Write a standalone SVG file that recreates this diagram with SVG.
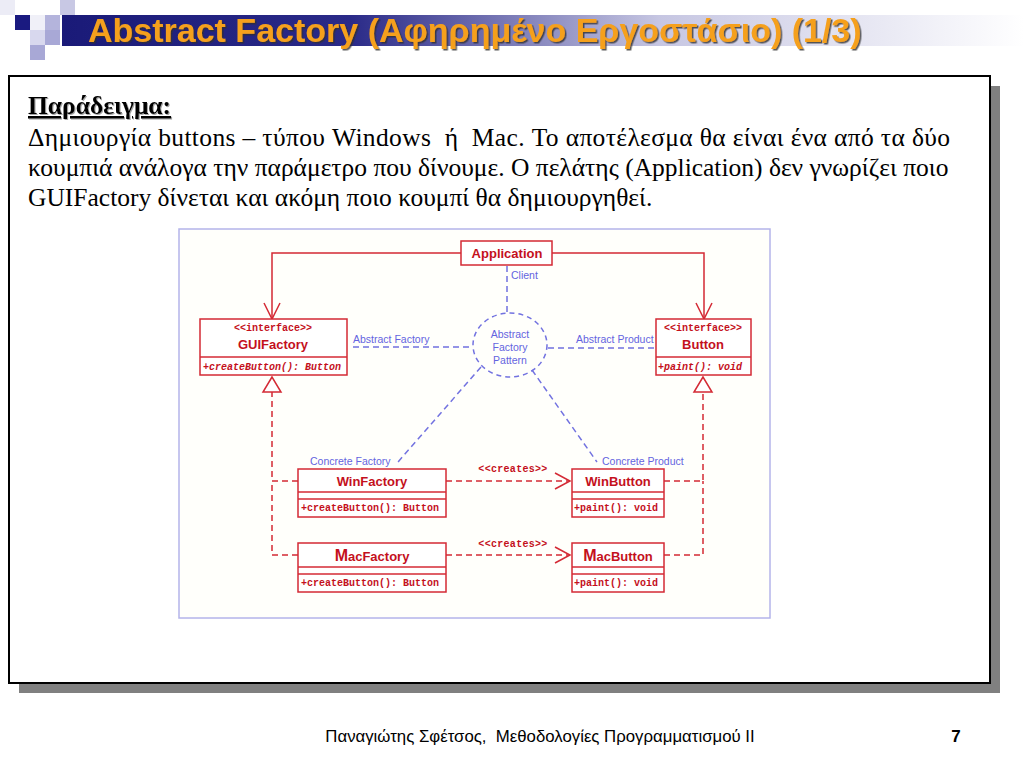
<svg xmlns="http://www.w3.org/2000/svg" width="1024" height="768" viewBox="0 0 1024 768">
<defs>
<linearGradient id="tb" x1="0" x2="1" y1="0" y2="0">
<stop offset="0" stop-color="#1a1a78"/>
<stop offset="0.3" stop-color="#2a2a88"/>
<stop offset="0.62" stop-color="#c6c6e2"/>
<stop offset="1" stop-color="#ffffff"/>
</linearGradient>
<filter id="sh" x="-5%" y="-20%" width="110%" height="150%">
<feDropShadow dx="1.5" dy="1.5" stdDeviation="0.6" flood-color="#303030" flood-opacity="0.8"/>
</filter>
<filter id="sh2" x="-5%" y="-20%" width="110%" height="150%">
<feDropShadow dx="1" dy="1" stdDeviation="0.5" flood-color="#808080" flood-opacity="0.7"/>
</filter>
<style>
.red{stroke:#d42a35;fill:none;stroke-width:1.5}
.rdash{stroke:#d42a35;fill:none;stroke-width:1.5;stroke-dasharray:6 4}
.bdash{stroke:#7272e0;fill:none;stroke-width:1.5;stroke-dasharray:6 4}
.box{fill:#fff;stroke:#d42a35;stroke-width:1.5}
.tri{fill:#fff;stroke:#d42a35;stroke-width:1.5}
.cls{font-family:"Liberation Sans",Arial,sans-serif;font-weight:bold;font-size:13px;fill:#c4101c;text-anchor:middle}
.mono{font-family:"Liberation Mono","Courier New",monospace;font-weight:bold;font-size:10px;fill:#c4101c}
.blue{font-family:"Liberation Sans",Arial,sans-serif;font-size:10.5px;fill:#6464e0}
.body{font-family:"Liberation Serif","Times New Roman",serif;font-size:25.5px;fill:#000;white-space:pre}
</style>
</defs>
<rect width="1024" height="768" fill="#fff"/>
<g id="deco">
<rect x="0" y="0" width="15" height="15" fill="#ececf6"/>
<rect x="60" y="0" width="15" height="15" fill="#c8c8e4"/>
<rect x="15" y="15" width="15" height="15" fill="#1a1a80"/>
<rect x="30" y="15" width="15" height="15" fill="#f0f0f8"/>
<rect x="45" y="15" width="15" height="15" fill="#b4b4dc"/>
<rect x="30" y="30" width="15" height="15" fill="#d8d8ee"/>
<rect x="45" y="30" width="15" height="15" fill="#a8a8d6"/>
<rect x="30" y="45" width="15" height="15" fill="#a8a8d6"/>
</g>
<g id="title">
<rect x="62" y="15" width="962" height="31" fill="url(#tb)"/>
<text x="88" y="42" font-family="Liberation Sans,Arial,sans-serif" font-weight="bold" font-size="34" fill="#f5a01e" filter="url(#sh)">Abstract Factory (Αφηρημένο Εργοστάσιο) (1/3)</text>
</g>
<g id="panel">
<rect x="19" y="86" width="981" height="607" fill="#808080"/>
<rect x="9" y="76" width="981" height="607" fill="#fff" stroke="#000" stroke-width="2"/>
<text x="28" y="114" class="body" font-weight="bold" text-decoration="underline" filter="url(#sh2)">Παράδειγμα:</text>
<text x="28" y="146" class="body" xml:space="preserve" textLength="922" lengthAdjust="spacing">Δημιουργία buttons – τύπου Windows  ή  Mac. Το αποτέλεσμα θα είναι ένα από τα δύο</text>
<text x="28" y="176" class="body">κουμπιά ανάλογα την παράμετρο που δίνουμε. Ο πελάτης (Application) δεν γνωρίζει ποιο</text>
<text x="28" y="206" class="body">GUIFactory δίνεται και ακόμη ποιο κουμπί θα δημιουργηθεί.</text>
</g>
<g id="diagram-frame">
<rect x="179" y="229" width="591" height="389" fill="#fffffb" stroke="#b4b4ea" stroke-width="1.5"/>
</g>
<g id="connectors">
<path class="red" d="M461,253 H272 V319"/>
<path class="red" d="M264,303 L272,319 L280,303"/>
<path class="red" d="M552,253 H704 V319"/>
<path class="red" d="M696,303 L704,319 L712,303"/>
<path class="rdash" d="M298,481 H272 V392"/>
<path class="rdash" d="M298,555 H272 V481"/>
<polygon class="tri" points="272,377 263,392 281,392"/>
<path class="rdash" d="M664,481 H703 V392"/>
<path class="rdash" d="M664,555 H703 V481"/>
<polygon class="tri" points="703,377 694,392 712,392"/>
<path class="rdash" d="M446,481 H569"/>
<path class="red" d="M555,473 L570,481 L555,489"/>
<path class="rdash" d="M446,555 H569"/>
<path class="red" d="M555,547 L570,555 L555,563"/>
<text x="513" y="472" class="mono" font-size="8.5" text-anchor="middle" letter-spacing="0.3">&lt;&lt;creates&gt;&gt;</text>
<text x="513" y="547" class="mono" font-size="8.5" text-anchor="middle" letter-spacing="0.3">&lt;&lt;creates&gt;&gt;</text>
<path class="bdash" d="M507,266 V312"/>
<text x="511" y="279" class="blue">Client</text>
<path class="bdash" d="M353,347 H472"/>
<text x="353" y="343" class="blue">Abstract Factory</text>
<path class="bdash" d="M548,348 H655"/>
<text x="576" y="343" class="blue">Abstract Product</text>
<path class="bdash" d="M481,367 L398,462"/>
<text x="310" y="465" class="blue">Concrete Factory</text>
<path class="bdash" d="M532,370 L597,462"/>
<text x="602" y="465" class="blue">Concrete Product</text>
</g>
<g id="pattern">
<ellipse cx="510" cy="345" rx="37" ry="32" fill="none" stroke="#7272e0" stroke-width="1.5" stroke-dasharray="5 4"/>
<text x="510" y="338" class="blue" font-size="10" text-anchor="middle">Abstract</text>
<text x="510" y="351" class="blue" font-size="10" text-anchor="middle">Factory</text>
<text x="510" y="364" class="blue" font-size="10" text-anchor="middle">Pattern</text>
</g>
<g id="application">
<rect class="box" x="461" y="241" width="91" height="24"/>
<text x="507" y="258" class="cls">Application</text>
</g>
<g id="guifactory">
<rect class="box" x="200" y="319" width="147" height="56"/>
<line class="red" x1="200" y1="357" x2="347" y2="357"/>
<text x="273" y="331" class="mono" font-size="9.5" text-anchor="middle">&lt;&lt;interface&gt;&gt;</text>
<text x="273" y="349" class="cls">GUIFactory</text>
<text x="203" y="370" class="mono" font-style="italic">+createButton(): Button</text>
</g>
<g id="button">
<rect class="box" x="656" y="319" width="95" height="56"/>
<line class="red" x1="656" y1="357" x2="751" y2="357"/>
<text x="703" y="331" class="mono" font-size="9.5" text-anchor="middle">&lt;&lt;interface&gt;&gt;</text>
<text x="703" y="349" class="cls">Button</text>
<text x="658" y="370" class="mono" font-style="italic">+paint(): void</text>
</g>
<g id="winfactory">
<rect class="box" x="298" y="469" width="148" height="48"/>
<line class="red" x1="298" y1="492" x2="446" y2="492"/>
<line class="red" x1="298" y1="499" x2="446" y2="499"/>
<text x="372" y="486" class="cls">WinFactory</text>
<text x="301" y="511" class="mono">+createButton(): Button</text>
</g>
<g id="macfactory">
<rect class="box" x="298" y="543" width="148" height="49"/>
<line class="red" x1="298" y1="567" x2="446" y2="567"/>
<line class="red" x1="298" y1="574" x2="446" y2="574"/>
<text x="372" y="561" class="cls"><tspan font-size="16">M</tspan>acFactory</text>
<text x="301" y="586" class="mono">+createButton(): Button</text>
</g>
<g id="winbutton">
<rect class="box" x="572" y="469" width="92" height="48"/>
<line class="red" x1="572" y1="492" x2="664" y2="492"/>
<line class="red" x1="572" y1="499" x2="664" y2="499"/>
<text x="618" y="486" class="cls">WinButton</text>
<text x="574" y="511" class="mono">+paint(): void</text>
</g>
<g id="macbutton">
<rect class="box" x="572" y="543" width="92" height="49"/>
<line class="red" x1="572" y1="567" x2="664" y2="567"/>
<line class="red" x1="572" y1="574" x2="664" y2="574"/>
<text x="618" y="561" class="cls"><tspan font-size="16">M</tspan>acButton</text>
<text x="574" y="586" class="mono">+paint(): void</text>
</g>
<g id="footer">
<text x="540" y="742" font-family="Liberation Sans,Arial,sans-serif" font-size="16.8" text-anchor="middle" fill="#000" xml:space="preserve" style="white-space:pre">Παναγιώτης Σφέτσος,  Μεθοδολογίες Προγραμματισμού ΙΙ</text>
<text x="956" y="742" font-family="Liberation Sans,Arial,sans-serif" font-size="17" font-weight="bold" text-anchor="middle" fill="#000">7</text>
</g>
</svg>
